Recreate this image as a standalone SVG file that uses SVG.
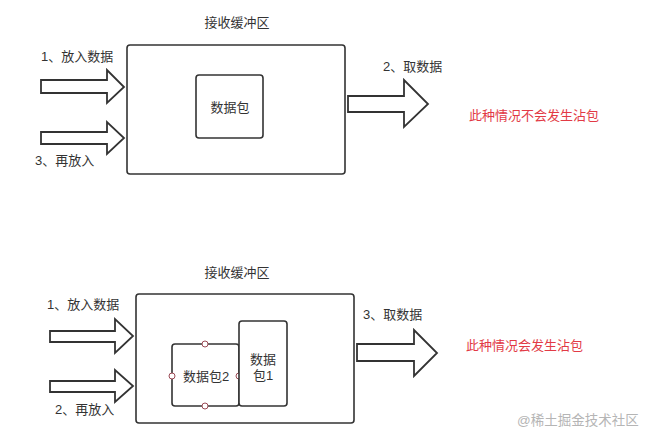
<svg xmlns="http://www.w3.org/2000/svg" width="645" height="440" viewBox="0 0 645 440">
<style>
text{font-family:"Liberation Sans","Noto Sans CJK SC",sans-serif;font-size:13px;fill:#333}
.red{fill:#e23a45}
.wm{fill:#b5b5b5;font-size:13.5px}
.box{fill:#fff;stroke:#333;stroke-width:1.6}
.arr{fill:#fff;stroke:#333;stroke-width:1.8;stroke-linejoin:miter}
.pt{fill:#fff;stroke:#9b4a55;stroke-width:1}
</style>
<rect width="645" height="440" fill="#fff"/>
<g id="buffer1">
<rect class="box" x="127" y="45" width="218" height="129" rx="3"/>
<text x="237" y="27" text-anchor="middle">接收缓冲区</text>
</g>
<g id="packet">
<rect class="box" x="196" y="75" width="67" height="63" rx="3"/>
<text x="230" y="112" text-anchor="middle">数据包</text>
</g>
<g id="buffer2">
<rect class="box" x="136" y="294" width="218" height="129" rx="3"/>
<text x="237" y="277" text-anchor="middle">接收缓冲区</text>
</g>
<g id="packet2">
<rect class="box" x="172" y="344" width="67" height="62" rx="3"/>
<text x="206" y="381" text-anchor="middle">数据包2</text>
<circle class="pt" cx="205" cy="344" r="3"/>
<circle class="pt" cx="205" cy="406" r="3"/>
<circle class="pt" cx="172" cy="376" r="3"/>
<circle class="pt" cx="239" cy="376" r="3"/>
</g>
<g id="packet1">
<rect class="box" x="239" y="321" width="48" height="85" rx="3"/>
<text x="263" y="364" text-anchor="middle">数据</text>
<text x="263" y="380" text-anchor="middle">包1</text>
</g>
<g id="connectors">
<polygon class="arr" points="41,80 107,80 107,70 124,87 107,103 107,93 41,93"/>
<polygon class="arr" points="41,132 107,132 107,122 124,138 107,154 107,144 41,144"/>
<polygon class="arr" points="348,96 404,96 404,80 428,104 404,127 404,112 348,112"/>
<polygon class="arr" points="50,331 115,331 115,319 133,336 115,353 115,342 50,342"/>
<polygon class="arr" points="50,381 115,381 115,370 133,386 115,402 115,392 50,392"/>
<polygon class="arr" points="357,344 414,344 414,330 437,353 414,376 414,361 357,361"/>
</g>
<g id="labels">
<text x="41" y="61">1、放入数据</text>
<text x="35" y="165">3、再放入</text>
<text x="383" y="71">2、取数据</text>
<text class="red" x="469" y="120">此种情况不会发生沾包</text>
<text x="47" y="309">1、放入数据</text>
<text x="55" y="414">2、再放入</text>
<text x="363" y="319">3、取数据</text>
<text class="red" x="466" y="350">此种情况会发生沾包</text>
<text class="wm" x="517" y="425">@稀土掘金技术社区</text>
</g>
</svg>
